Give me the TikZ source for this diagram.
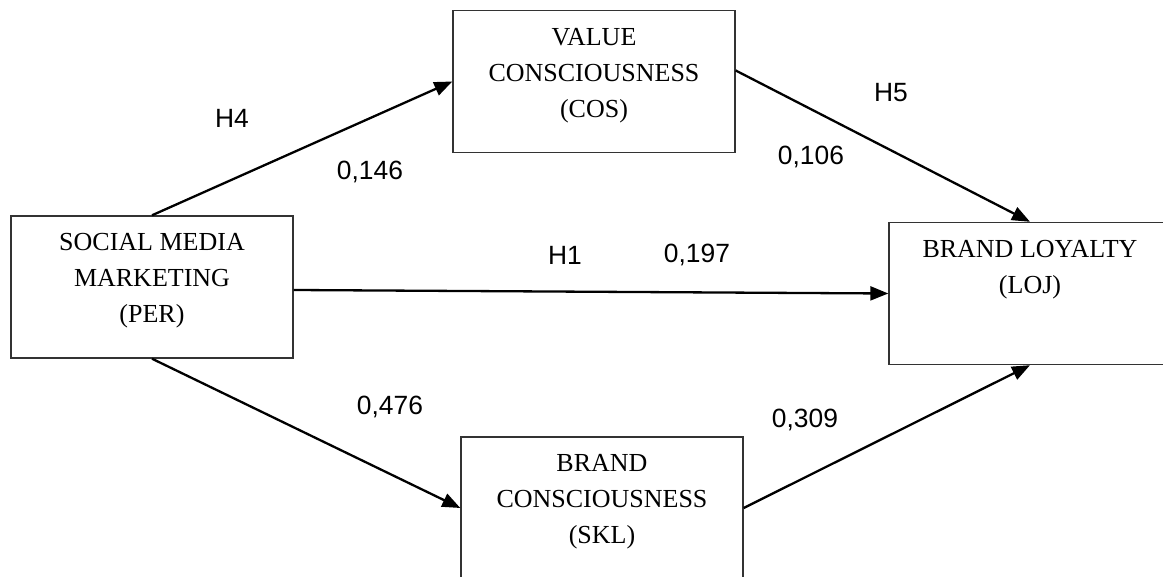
\documentclass[tikz,border=0pt]{standalone}
\usepackage{fontspec}
\setmainfont{Liberation Serif}
\newfontfamily\lblfont{Liberation Sans}
\usetikzlibrary{arrows.meta,positioning}

\begin{document}
\begin{tikzpicture}[
  x=0.5pt,y=-0.5pt,
  box/.style={draw=black!80,line width=0.7pt,minimum width=141pt,minimum height=71pt,inner sep=0pt},
  boxtxt/.style={align=center,inner sep=0pt,font=\fontsize{13}{18}\selectfont},
  lbl/.style={font=\lblfont\fontsize{13.2}{15}\selectfont,inner sep=0pt},
  ar/.style={-{Triangle[length=9pt,width=7pt]},line width=1.15pt}
]
\useasboundingbox (0,0) rectangle (1163,577);
% constructs
\node[box] (per) at (152,287) {};
\node[box] (cos) at (594,81.5) {};
\node[box] (loj) at (1030,293.5) {};
\node[box] (skl) at (602,508) {};
\node[boxtxt,below=9pt of per.north] (perT) {SOCIAL MEDIA\\MARKETING\\(PER)};
\node[boxtxt,below=9pt of cos.north] (cosT) {VALUE\\CONSCIOUSNESS\\(COS)};
\node[boxtxt,below=9pt of loj.north] (lojT) {BRAND LOYALTY\\(LOJ)};
\node[boxtxt,below=9pt of skl.north] (sklT) {BRAND\\CONSCIOUSNESS\\(SKL)};
% paths
\draw[ar] (per.north) -- (cos.west);
\draw[ar] ([yshift=5.5pt]cos.east) -- (loj.north);
\draw[ar] ([yshift=-1.5pt]per.east) -- (loj.west);
\draw[ar] (per.south) -- (skl.west);
\draw[ar] (skl.east) -- (loj.south);
% coefficients
\node[lbl] (h4) at (232,118) {H4};
\node[lbl] (b4) at (370,172) {0,146};
\node[lbl] (h5) at (891,93) {H5};
\node[lbl] (b5) at (811,157) {0,106};
\node[lbl] (h1) at (565,255) {H1};
\node[lbl] (b1) at (697,255) {0,197};
\node[lbl] (b2) at (390,407) {0,476};
\node[lbl] (b3) at (805,420) {0,309};
\end{tikzpicture}
\end{document}
